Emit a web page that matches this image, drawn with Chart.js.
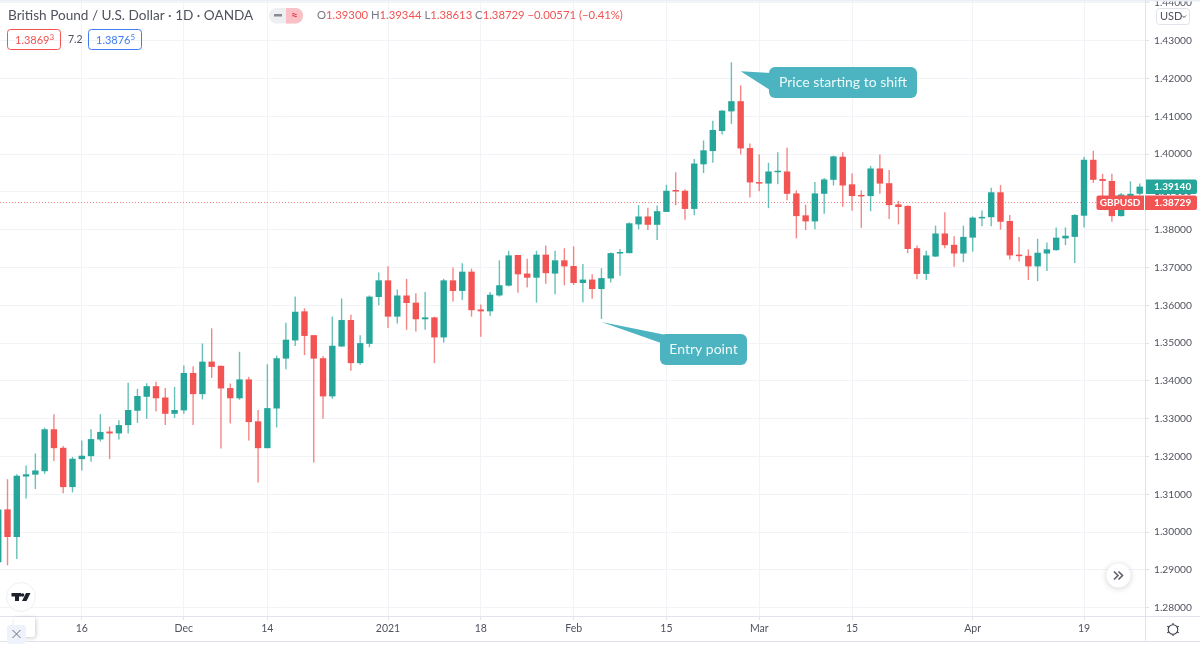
<!DOCTYPE html>
<html>
<head>
<meta charset="utf-8">
<title>GBPUSD</title>
<script src="https://cdn.jsdelivr.net/npm/chart.js@4"></script>
<style>
  html, body { margin: 0; padding: 0; background: #fff; overflow: hidden; }
  #myChart { display: block; }
</style>
</head>
<body>
<canvas id="myChart" width="1200" height="647"></canvas>
<script>
// daily candles, left to right
const opens = [
  1.2920,1.3060,1.2987,1.3147,1.3152,1.3161,1.3272,1.3223,1.3119,1.3193,
  1.3201,1.3245,1.3266,1.3261,1.3283,1.3321,1.3358,1.3386,1.3356,1.3313,
  1.3322,1.3421,1.3365,1.3451,1.3440,1.3381,1.3354,1.3404,1.3293,1.3222,
  1.3327,1.3459,1.3507,1.3584,1.3521,1.3460,1.3359,1.3491,1.3561,1.3447,
  1.3498,1.3622,1.3666,1.3570,1.3626,1.3607,1.3563,1.3568,1.3515,1.3666,
  1.3638,1.3689,1.3589,1.3584,1.3626,1.3652,1.3733,1.3684,1.3673,1.3734,
  1.3684,1.3719,1.3704,1.3659,1.3668,1.3643,1.3671,1.3737,1.3738,1.3814,
  1.3835,1.3813,1.3847,1.3903,1.3903,1.3855,1.3973,1.4008,1.4061,1.4113,
  1.4140,1.4016,1.3925,1.3922,1.3952,1.3954,1.3896,1.3838,1.3822,1.3895,
  1.3932,1.3993,1.3920,1.3891,1.3889,1.3962,1.3923,1.3867,1.3863,1.3751,
  1.3683,1.3729,1.3790,1.3760,1.3737,1.3779,1.3830,1.3833,1.3899,1.3823,
  1.3734,1.3731,1.3703,1.3737,1.3746,1.3777,1.3781,1.3837,1.3985,1.3934,
  1.3929,1.3836,1.3885,1.3895
];
const highs = [
  1.3062,1.3140,1.3153,1.3176,1.3208,1.3276,1.3312,1.3228,1.3199,1.3242,
  1.3272,1.3312,1.3279,1.3296,1.3395,1.3379,1.3394,1.3398,1.3381,1.3384,
  1.3441,1.3439,1.3499,1.3539,1.3440,1.3393,1.3477,1.3411,1.3323,1.3444,
  1.3467,1.3554,1.3623,1.3592,1.3521,1.3466,1.3570,1.3618,1.3575,1.3521,
  1.3626,1.3687,1.3703,1.3642,1.3670,1.3632,1.3635,1.3570,1.3670,1.3700,
  1.3711,1.3697,1.3602,1.3635,1.3719,1.3744,1.3734,1.3723,1.3744,1.3758,
  1.3744,1.3751,1.3756,1.3709,1.3682,1.3698,1.3740,1.3749,1.3819,1.3865,
  1.3858,1.3864,1.3919,1.3952,1.3907,1.3987,1.4036,1.4088,1.4116,1.4243,
  1.4182,1.4028,1.3999,1.3977,1.4005,1.4017,1.3904,1.3866,1.3926,1.3937,
  1.3996,1.4005,1.3949,1.3904,1.3969,1.3999,1.3958,1.3876,1.3864,1.3758,
  1.3744,1.3811,1.3846,1.3783,1.3811,1.3835,1.3851,1.3911,1.3918,1.3839,
  1.3781,1.3748,1.3776,1.3766,1.3806,1.3806,1.3841,1.3993,1.4009,1.3948,
  1.3948,1.3897,1.3928,1.3922
];
const lows = [
  1.2915,1.2912,1.2929,1.3089,1.3114,1.3154,1.3188,1.3103,1.3105,1.3163,
  1.3186,1.3240,1.3193,1.3245,1.3261,1.3289,1.3300,1.3319,1.3283,1.3302,
  1.3313,1.3283,1.3351,1.3408,1.3221,1.3287,1.3350,1.3242,1.3131,1.3222,
  1.3277,1.3431,1.3492,1.3468,1.3184,1.3300,1.3353,1.3490,1.3427,1.3443,
  1.3489,1.3600,1.3540,1.3552,1.3535,1.3531,1.3535,1.3447,1.3501,1.3610,
  1.3614,1.3570,1.3517,1.3572,1.3623,1.3650,1.3633,1.3647,1.3607,1.3657,
  1.3629,1.3653,1.3654,1.3608,1.3617,1.3564,1.3660,1.3678,1.3738,1.3801,
  1.3799,1.3773,1.3847,1.3865,1.3826,1.3838,1.3950,1.3977,1.4052,1.4080,
  1.3999,1.3885,1.3902,1.3857,1.3920,1.3878,1.3777,1.3799,1.3801,1.3842,
  1.3917,1.3861,1.3850,1.3805,1.3849,1.3895,1.3828,1.3814,1.3738,1.3669,
  1.3667,1.3728,1.3751,1.3702,1.3714,1.3742,1.3809,1.3809,1.3800,1.3721,
  1.3716,1.3667,1.3664,1.3691,1.3744,1.3759,1.3712,1.3806,1.3924,1.3860,
  1.3821,1.3835,1.3882,1.3891
];
const closes = [
  1.3060,1.2987,1.3149,1.3153,1.3163,1.3272,1.3222,1.3119,1.3194,1.3202,
  1.3246,1.3265,1.3261,1.3283,1.3323,1.3360,1.3386,1.3354,1.3313,1.3323,
  1.3421,1.3365,1.3451,1.3437,1.3380,1.3354,1.3404,1.3291,1.3222,1.3328,
  1.3460,1.3509,1.3583,1.3519,1.3459,1.3359,1.3493,1.3561,1.3447,1.3500,
  1.3623,1.3666,1.3570,1.3626,1.3606,1.3563,1.3568,1.3515,1.3666,1.3638,
  1.3689,1.3587,1.3584,1.3628,1.3653,1.3732,1.3682,1.3673,1.3734,1.3685,
  1.3719,1.3703,1.3659,1.3668,1.3643,1.3672,1.3738,1.3740,1.3817,1.3835,
  1.3813,1.3849,1.3903,1.3901,1.3855,1.3975,1.4010,1.4064,1.4115,1.4140,
  1.4015,1.3925,1.3922,1.3954,1.3954,1.3895,1.3836,1.3822,1.3896,1.3933,
  1.3994,1.3917,1.3889,1.3888,1.3962,1.3922,1.3865,1.3860,1.3749,1.3683,
  1.3732,1.3790,1.3759,1.3737,1.3781,1.3832,1.3834,1.3899,1.3821,1.3732,
  1.3730,1.3703,1.3739,1.3748,1.3779,1.3784,1.3839,1.3985,1.3932,1.3929,
  1.3836,1.3893,1.3895,1.3914
];

// time axis labels and the candle each one sits under
const dateTickIndex = [9, 20, 29, 42, 52, 62, 72, 82, 92, 105, 117];
const dateTickLabels = ['16', 'Dec', '14', '2021', '18', 'Feb', '15', 'Mar', '15', 'Apr', '19'];
const priceTicks = [1.28, 1.29, 1.30, 1.31, 1.32, 1.33, 1.34, 1.35, 1.36, 1.37, 1.38, 1.39, 1.40, 1.41, 1.42, 1.43, 1.44];

const lastClose = 1.38729;
const liveClose = 1.39140;

const GREEN = '#26a69a';
const RED = '#f25353';
const CALLOUT = '#4bb4c0';
const FONT = 'Lato, sans-serif';
const TEXT = '#50535e';

const candleColors = opens.map((o, i) => (closes[i] >= o ? GREEN : RED));
const wickColors = opens.map((o, i) => (closes[i] >= o ? 'rgba(38,166,154,.7)' : 'rgba(242,83,83,.7)'));

function roundBox(ctx, x, y, w, h, r) {
    ctx.beginPath();
    ctx.roundRect(x, y, w, h, r);
}

// several coloured pieces of text one after the other
function textRun(ctx, x, y, parts) {
    parts.forEach(p => {
        ctx.fillStyle = p[1];
        ctx.fillText(p[0], x, y);
        x += ctx.measureText(p[0]).width;
    });
    return x;
}

function callout(ctx, box, tip, baseA, baseB, label) {
    ctx.fillStyle = CALLOUT;
    roundBox(ctx, box[0], box[1], box[2], box[3], 6);
    ctx.fill();
    ctx.beginPath();
    ctx.moveTo(tip[0], tip[1]);
    ctx.lineTo(baseA[0], baseA[1]);
    ctx.lineTo(baseB[0], baseB[1]);
    ctx.closePath();
    ctx.fill();
    ctx.fillStyle = '#eef9fa';
    ctx.font = '14px ' + FONT;
    ctx.textAlign = 'center';
    ctx.textBaseline = 'middle';
    ctx.fillText(label, box[0] + box[2] / 2, box[1] + box[3] / 2);
}

const overlayPlugin = {
    id: 'overlay',
    // dotted last price line goes under the candles
    beforeDatasetsDraw(chart) {
        const { ctx, chartArea, scales } = chart;
        const y = Math.round(scales.y.getPixelForValue(lastClose)) + 0.5;
        ctx.save();
        ctx.strokeStyle = 'rgba(242,83,83,.75)';
        ctx.lineWidth = 1;
        ctx.setLineDash([1, 2]);
        ctx.beginPath();
        ctx.moveTo(chartArea.left, y);
        ctx.lineTo(chartArea.right, y);
        ctx.stroke();
        ctx.restore();
    },
    afterDraw(chart) {
        const { ctx, scales } = chart;
        ctx.save();

        // frame bits
        ctx.fillStyle = '#eceef5';
        ctx.fillRect(0, 0, 1200, 1.5);
        ctx.strokeStyle = '#e0e3eb';
        ctx.lineWidth = 1;
        ctx.beginPath();
        ctx.moveTo(1145.5, 0);
        ctx.lineTo(1145.5, 641);
        ctx.moveTo(0, 616.5);
        ctx.lineTo(1200, 616.5);
        ctx.moveTo(0, 641.5);
        ctx.lineTo(1200, 641.5);
        ctx.stroke();

        // callouts, tails start at the candles they point to
        const entryTip = [scales.x.getPixelForValue(65), scales.y.getPixelForValue(1.3556)];
        callout(ctx, [660, 334, 87, 31], entryTip, [666, 335], [661, 343], 'Entry point');
        const shiftTip = [scales.x.getPixelForValue(80), scales.y.getPixelForValue(1.4219)];
        callout(ctx, [769, 67, 148, 31], shiftTip, [771, 73], [770, 90], 'Price starting to shift');

        // header
        ctx.textAlign = 'left';
        ctx.textBaseline = 'middle';
        ctx.font = '13.6px ' + FONT;
        ctx.fillStyle = TEXT;
        ctx.fillText('British Pound / U.S. Dollar · 1D · OANDA', 8, 15.5);

        ctx.fillStyle = '#eeeff2';
        roundBox(ctx, 269, 8, 34, 15.5, 7.5);
        ctx.fill();
        ctx.fillStyle = '#f9c1c5';
        roundBox(ctx, 286, 8, 17, 15.5, [0, 7.5, 7.5, 0]);
        ctx.fill();
        ctx.fillStyle = '#888b94';
        ctx.fillRect(274, 14, 8, 2.5);
        ctx.fillStyle = '#e0404a';
        ctx.font = 'bold 12px ' + FONT;
        ctx.textAlign = 'center';
        ctx.fillText('≈', 294.5, 15.5);

        ctx.textAlign = 'left';
        ctx.font = '11.3px ' + FONT;
        textRun(ctx, 317, 15.5, [
            ['O', '#777a84'], ['1.39300', RED], [' H', '#777a84'], ['1.39344', RED],
            [' L', '#777a84'], ['1.38613', RED], [' C', '#777a84'], ['1.38729', RED],
            [' −0.00571 (−0.41%)', RED]
        ]);

        // bid and ask boxes
        ctx.lineWidth = 1;
        ctx.strokeStyle = RED;
        roundBox(ctx, 7.5, 29.5, 53, 20, 3);
        ctx.stroke();
        ctx.strokeStyle = '#3f7df0';
        roundBox(ctx, 88.5, 29.5, 53, 20, 3);
        ctx.stroke();
        ctx.font = '11px ' + FONT;
        let end = textRun(ctx, 15, 40, [['1.3869', RED]]);
        ctx.font = '8px ' + FONT;
        textRun(ctx, end, 37.5, [['3', RED]]);
        ctx.font = '10.5px ' + FONT;
        textRun(ctx, 68, 39.5, [['7.2', TEXT]]);
        ctx.font = '11px ' + FONT;
        end = textRun(ctx, 96, 40, [['1.3876', '#3f7df0']]);
        ctx.font = '8px ' + FONT;
        textRun(ctx, end, 37.5, [['5', '#3f7df0']]);

        // price labels on the axis
        ctx.font = 'bold 10px ' + FONT;
        ctx.fillStyle = GREEN;
        roundBox(ctx, 1146, 179.5, 51, 14.5, [0, 2, 2, 0]);
        ctx.fill();
        ctx.fillStyle = '#fff';
        ctx.textAlign = 'left';
        ctx.fillText(liveClose.toFixed(5), 1154, 187);
        ctx.fillStyle = RED;
        roundBox(ctx, 1096.5, 195.5, 47.5, 14.5, [2, 0, 0, 2]);
        ctx.fill();
        roundBox(ctx, 1145, 195.5, 52, 14.5, [0, 2, 2, 0]);
        ctx.fill();
        ctx.fillStyle = '#fff';
        ctx.textAlign = 'center';
        ctx.fillText('GBPUSD', 1120, 203);
        ctx.textAlign = 'left';
        ctx.fillText(lastClose.toFixed(5), 1154, 203);

        // currency button
        ctx.fillStyle = '#fff';
        ctx.strokeStyle = '#e0e3eb';
        roundBox(ctx, 1156.5, 8.5, 33, 16, 3);
        ctx.fill();
        ctx.stroke();
        ctx.fillStyle = TEXT;
        ctx.font = '11px ' + FONT;
        ctx.fillText('USD', 1160, 16.5);
        ctx.strokeStyle = TEXT;
        ctx.beginPath();
        ctx.moveTo(1182, 15.5);
        ctx.lineTo(1184, 17.5);
        ctx.lineTo(1186, 15.5);
        ctx.stroke();

        // scroll button
        ctx.save();
        ctx.shadowColor = 'rgba(0,0,0,.18)';
        ctx.shadowBlur = 6;
        ctx.shadowOffsetY = 1;
        ctx.fillStyle = '#fff';
        ctx.beginPath();
        ctx.arc(1118.5, 575.5, 12, 0, Math.PI * 2);
        ctx.fill();
        ctx.restore();
        ctx.strokeStyle = '#5d606b';
        ctx.lineWidth = 1.6;
        ctx.beginPath();
        ctx.moveTo(1114, 571.5);
        ctx.lineTo(1118, 575.5);
        ctx.lineTo(1114, 579.5);
        ctx.moveTo(1118.5, 571.5);
        ctx.lineTo(1122.5, 575.5);
        ctx.lineTo(1118.5, 579.5);
        ctx.stroke();

        // settings gear
        ctx.strokeStyle = '#3b3e48';
        ctx.lineWidth = 1.1;
        ctx.beginPath();
        ctx.arc(1173, 629.5, 4.8, 0, Math.PI * 2);
        ctx.stroke();
        for (let a = 0; a < 6; a++) {
            const t = a * Math.PI / 3 + Math.PI / 6;
            ctx.beginPath();
            ctx.moveTo(1173 + Math.cos(t) * 4.8, 629.5 + Math.sin(t) * 4.8);
            ctx.lineTo(1173 + Math.cos(t) * 6.6, 629.5 + Math.sin(t) * 6.6);
            ctx.stroke();
        }

        // logo
        ctx.fillStyle = '#fff';
        ctx.strokeStyle = '#eceef2';
        ctx.lineWidth = 1;
        ctx.beginPath();
        ctx.arc(21, 597, 14.5, 0, Math.PI * 2);
        ctx.fill();
        ctx.stroke();
        ctx.fillStyle = '#1e222d';
        ctx.fillRect(11.5, 593, 9.5, 3.5);
        ctx.fillRect(15, 593, 4, 8);
        ctx.beginPath();
        ctx.arc(22.5, 595, 1.8, 0, Math.PI * 2);
        ctx.fill();
        ctx.beginPath();
        ctx.moveTo(26, 593);
        ctx.lineTo(30.5, 593);
        ctx.lineTo(26.5, 601);
        ctx.lineTo(22, 601);
        ctx.closePath();
        ctx.fill();

        // bottom left corner buttons
        ctx.save();
        ctx.shadowColor = 'rgba(0,0,0,.2)';
        ctx.shadowBlur = 4;
        ctx.shadowOffsetX = 1;
        ctx.shadowOffsetY = 1;
        ctx.fillStyle = '#fff';
        roundBox(ctx, 14, 617, 21, 20, 2);
        ctx.fill();
        ctx.restore();
        ctx.fillStyle = '#eef2fb';
        roundBox(ctx, 7, 625, 19, 19, 3);
        ctx.fill();
        ctx.strokeStyle = '#6c6f7a';
        ctx.lineWidth = 1;
        ctx.beginPath();
        ctx.moveTo(12.5, 630);
        ctx.lineTo(20.5, 638);
        ctx.moveTo(20.5, 630);
        ctx.lineTo(12.5, 638);
        ctx.stroke();

        ctx.restore();
    }
};

const ctx = document.getElementById('myChart');

const myChart = new Chart(ctx, {
    type: 'bar',
    data: {
        datasets: [{
            label: 'Wicks',
            data: opens.map((o, i) => ({ x: i, y: [lows[i], highs[i]] })),
            backgroundColor: wickColors,
            barThickness: 1.4,
            order: 2
        }, {
            label: 'Bodies',
            data: opens.map((o, i) => ({ x: i, y: [o, closes[i]] })),
            backgroundColor: candleColors,
            barThickness: 6.4,
            minBarLength: 1.5,
            order: 1
        }]
    },
    options: {
        responsive: false,
        animation: false,
        grouped: false,
        inflateAmount: 0,
        layout: { padding: 0, autoPadding: false },
        plugins: {
            legend: { display: false },
            tooltip: { enabled: false }
        },
        scales: {
            x: {
                type: 'linear',
                offset: false,
                min: 0.19,
                max: 123.57,
                afterFit(scale) {
                    scale.height = 31;
                    scale.paddingLeft = 0;
                    scale.paddingRight = 0;
                },
                afterBuildTicks(scale) {
                    scale.ticks = dateTickIndex.map(v => ({ value: v }));
                },
                grid: { offset: false, color: '#f2f3f6', tickLength: 4, tickColor: '#e0e3eb', drawTicks: true },
                border: { display: false },
                ticks: {
                    autoSkip: false,
                    maxRotation: 0,
                    padding: 2,
                    color: TEXT,
                    font: { family: 'Lato', size: 10.5 },
                    callback(value) {
                        return dateTickLabels[dateTickIndex.indexOf(value)];
                    }
                }
            },
            y: {
                type: 'linear',
                position: 'right',
                min: 1.2778,
                max: 1.44077,
                // labels at the very top must not push the plot down
                afterFit(scale) {
                    scale.width = 55;
                    scale.paddingTop = 0;
                    scale.paddingBottom = 0;
                },
                afterBuildTicks(scale) {
                    scale.ticks = priceTicks.map(v => ({ value: v }));
                },
                grid: { color: '#f2f3f6', tickLength: 4, tickColor: '#e0e3eb' },
                border: { display: false },
                ticks: {
                    autoSkip: false,
                    padding: 5,
                    color: TEXT,
                    font: { family: 'Lato', size: 10.2 },
                    callback(value) {
                        return value.toFixed(5);
                    }
                }
            }
        }
    },
    plugins: [overlayPlugin]
});
</script>
</body>
</html>
